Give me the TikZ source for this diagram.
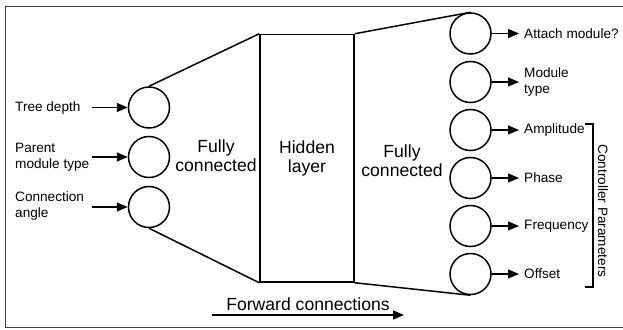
\documentclass[tikz,border=0pt]{standalone}
\usepackage{fontspec}
\setmainfont{Liberation Sans}
\usetikzlibrary{arrows.meta}
\tikzset{
  neuron/.style={draw,circle,line width=1.5pt,minimum size=41pt,inner sep=0pt},
  small/.style={font=\fontsize{13.6}{15.5}\selectfont,align=left,inner sep=0pt},
  big/.style={font=\fontsize{17.6}{19}\selectfont,align=center,inner sep=0pt},
  conn/.style={line width=1.5pt},
  io/.style={line width=1.5pt,-{Triangle[length=11pt,width=9pt]}}
}
\begin{document}
\begin{tikzpicture}[x=1pt,y=-1pt]
    \useasboundingbox (0,0) rectangle (623,329);
    \draw[line width=1pt,color=black!75] (5.5,6.5) rectangle (630,327.5);

    % input layer
    \node[neuron] (in1) at (149,107.5) {};
    \node[neuron] (in2) at (149,157) {};
    \node[neuron] (in3) at (149,207) {};
    \node[small,anchor=west] (l1) at (15,107.5) {Tree depth};
    \node[small,anchor=west] (l2) at (15,157) {Parent\\module type};
    \node[small,anchor=west] (l3) at (15,206) {Connection\\angle};
    \foreach \i/\y in {1/107.5,2/157,3/207}
    \draw[io] (92,\y) -- (in\i.west);

    % hidden layer
    \node[draw,conn,minimum width=94pt,minimum height=247.5pt,big] (hid) at (307,158.25) {Hidden\\layer};
    \draw[conn] (in1.north) -- (hid.north west);
    \draw[conn] (in3.south) -- (hid.south west);
    \node[big] (fc1) at (216,156) {Fully\\connected};
    \node[big] (fc2) at (402,161) {Fully\\connected};

    % output layer
    \foreach \i/\y in {1/33.5,2/82,3/130,4/178,5/226,6/274}
    \node[neuron] (out\i) at (470.5,\y) {};
    \draw[conn] (hid.north east) -- (out1.north);
    \draw[conn] (hid.south east) -- (out6.south);
    \foreach \i/\y in {1/33.5,2/82,3/130,4/178,5/226,6/274}
    \draw[io] (out\i.east) -- (519,\y);
    \node[small,anchor=west] (r1) at (524,33.5) {Attach module?};
    \node[small,anchor=west] (r2) at (524,82) {Module\\type};
    \node[small,anchor=west] (r3) at (524,130) {Amplitude};
    \node[small,anchor=west] (r4) at (524,178) {Phase};
    \node[small,anchor=west] (r5) at (524,226) {Frequency};
    \node[small,anchor=west] (r6) at (524,274) {Offset};

    % controller parameters
    \draw[conn] (585,124) -- (593,124) -- (593,287) -- (585,287);
    \node[small,rotate=-90] (cp) at (603,211) {Controller Parameters};

    % forward connections
    \node[big] (fwd) at (308,304) {Forward connections};
    \draw[io] (212,315) -- (404,315);

\end{tikzpicture}
\end{document}
